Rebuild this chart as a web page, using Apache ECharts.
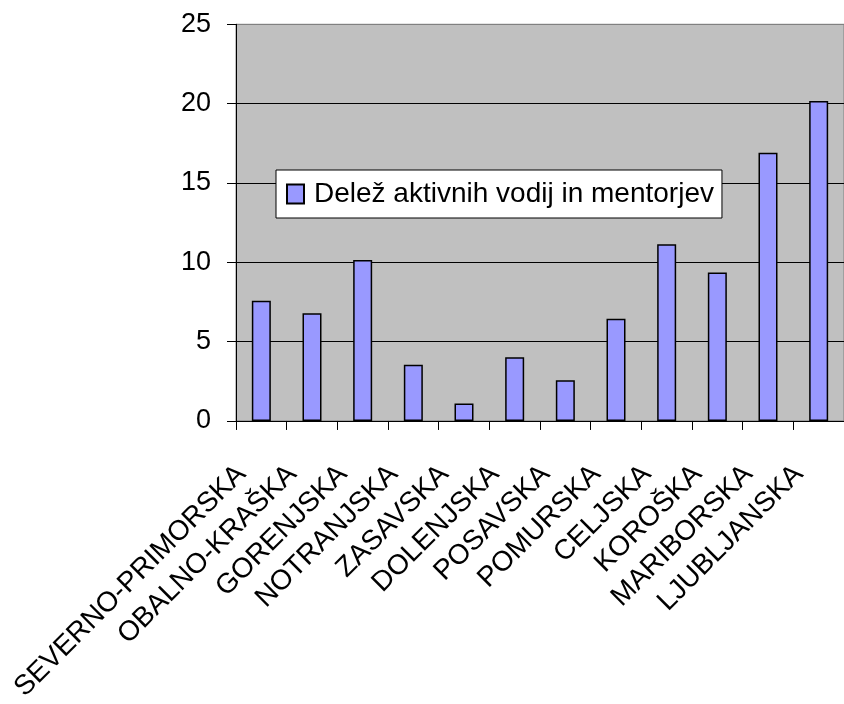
<!DOCTYPE html>
<html>
<head>
<meta charset="utf-8">
<script src="https://cdn.jsdelivr.net/npm/echarts@6/dist/echarts.min.js"></script>
<style>
html,body{margin:0;padding:0;background:#fff;}
#chart{width:844px;height:704px;}
</style>
</head>
<body>
<div id="chart"></div>
<script>
const categories = ['SEVERNO-PRIMORSKA','OBALNO-KRAŠKA','GORENJSKA','NOTRANJSKA','ZASAVSKA','DOLENJSKA','POSAVSKA','POMURSKA','CELJSKA','KOROŠKA','MARIBORSKA','LJUBLJANSKA'];
const seriesName = 'Delež aktivnih vodij in mentorjev';
const values = [7.57, 6.79, 10.15, 3.54, 1.1, 4.01, 2.56, 6.44, 11.13, 9.35, 16.91, 20.17];
const yTicks = { min: 0, max: 25, interval: 5 };

const chart = echarts.init(document.getElementById('chart'));
const font = '"Liberation Sans", Arial, sans-serif';
chart.setOption({
  animation: false,
  backgroundColor: '#ffffff',
  textStyle: { fontFamily: font },
  grid: {
    left: 236, right: 0, top: 24.3, bottom: 272.3,
    show: true, backgroundColor: '#C0C0C0', borderColor: '#808080', borderWidth: 1
  },
  legend: {
    left: 276, top: 170,
    orient: 'horizontal',
    backgroundColor: '#ffffff',
    borderColor: '#000000', borderWidth: 1,
    padding: [10, 8, 10, 10],
    itemWidth: 17, itemHeight: 19,
    icon: 'rect',
    textStyle: { fontFamily: font, fontSize: 28, color: '#000', padding: [0, 0, 0, 5] },
    data: [seriesName]
  },
  xAxis: {
    type: 'category',
    data: categories,
    boundaryGap: true,
    axisLine: { lineStyle: { color: '#000', width: 1 } },
    axisTick: { show: true, length: 9, alignWithLabel: false, lineStyle: { color: '#000' } },
    axisLabel: { rotate: 45, margin: 29, fontSize: 28, color: '#000', fontFamily: font, interval: 0, padding: [0, 28, 0, 0] }
  },
  yAxis: {
    type: 'value',
    min: yTicks.min, max: yTicks.max, interval: yTicks.interval,
    axisLine: { show: true, lineStyle: { color: '#000', width: 1 } },
    axisTick: { show: true, length: 9, lineStyle: { color: '#000' } },
    axisLabel: { margin: 25, fontSize: 27, color: '#000', fontFamily: font },
    splitLine: { show: true, lineStyle: { color: ['#000','#000','#000','#000','#000','#808080'], width: 1 } }
  },
  series: [{
    name: seriesName,
    type: 'bar',
    data: values,
    barWidth: 19,
    itemStyle: { color: '#9999FF', borderColor: '#000', borderWidth: 1.5 }
  }]
});
</script>
</body>
</html>
